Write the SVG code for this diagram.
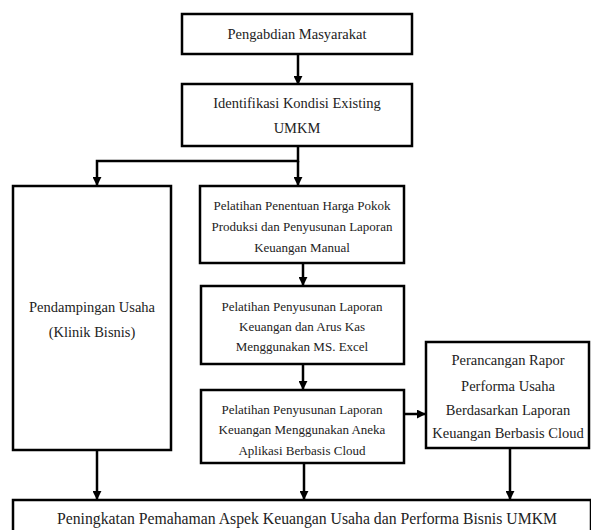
<svg xmlns="http://www.w3.org/2000/svg" width="591" height="530" viewBox="0 0 591 530">
<style>
.box{fill:#fff;stroke:#000;stroke-width:2.5}
.t{font-family:"Liberation Serif","Times New Roman",serif;fill:#222;text-anchor:middle}
.s13{font-size:13px}
.s15{font-size:14.5px}
.s14{font-size:14.5px}
.line{fill:none;stroke:#000;stroke-width:2.5}
</style>
<defs>
<marker id="ah" viewBox="0 0 10 10" refX="9" refY="5" markerWidth="3.6" markerHeight="3.6" orient="auto" markerUnits="strokeWidth">
<path d="M0,0 L10,5 L0,10 z" fill="#000"/>
</marker>
</defs>
<g id="connectors">
<line class="line" x1="298" y1="54" x2="298" y2="84" marker-end="url(#ah)"/>
<polyline class="line" points="298,146 298,161 97,161 97,185" marker-end="url(#ah)"/>
<line class="line" x1="298" y1="161" x2="298" y2="185" marker-end="url(#ah)"/>
<line class="line" x1="303" y1="263" x2="303" y2="285" marker-end="url(#ah)"/>
<line class="line" x1="303" y1="364" x2="303" y2="389" marker-end="url(#ah)"/>
<line class="line" x1="404" y1="414" x2="425" y2="414" marker-end="url(#ah)"/>
<line class="line" x1="97" y1="450" x2="97" y2="499" marker-end="url(#ah)"/>
<line class="line" x1="304" y1="463" x2="304" y2="499" marker-end="url(#ah)"/>
<line class="line" x1="510" y1="448" x2="510" y2="499" marker-end="url(#ah)"/>
</g>
<g id="n1">
<rect class="box" x="182" y="14" width="230" height="40"/>
<text class="t s14" x="297" y="39">Pengabdian Masyarakat</text>
</g>
<g id="n2">
<rect class="box" x="182" y="84" width="230" height="62"/>
<text class="t s15" x="297" y="108">Identifikasi Kondisi Existing</text>
<text class="t s15" x="297" y="133">UMKM</text>
</g>
<g id="n3">
<rect class="box" x="13" y="186" width="158" height="264"/>
<text class="t s15" x="92" y="312">Pendampingan Usaha</text>
<text class="t s15" x="92" y="337">(Klinik Bisnis)</text>
</g>
<g id="n4">
<rect class="box" x="200" y="186" width="204" height="77"/>
<text class="t s13" x="302" y="210">Pelatihan Penentuan Harga Pokok</text>
<text class="t s13" x="302" y="231">Produksi dan Penyusunan Laporan</text>
<text class="t s13" x="302" y="252">Keuangan Manual</text>
</g>
<g id="n5">
<rect class="box" x="201" y="286" width="203" height="78"/>
<text class="t s13" x="302" y="311">Pelatihan Penyusunan Laporan</text>
<text class="t s13" x="302" y="331">Keuangan dan Arus Kas</text>
<text class="t s13" x="302" y="351">Menggunakan MS. Excel</text>
</g>
<g id="n6">
<rect class="box" x="201" y="390" width="203" height="73"/>
<text class="t s13" x="302" y="414">Pelatihan Penyusunan Laporan</text>
<text class="t s13" x="302" y="434">Keuangan Menggunakan Aneka</text>
<text class="t s13" x="302" y="455">Aplikasi Berbasis Cloud</text>
</g>
<g id="n7">
<rect class="box" x="426" y="342" width="163" height="106"/>
<text class="t s15" x="508" y="365">Perancangan Rapor</text>
<text class="t s15" x="508" y="391">Performa Usaha</text>
<text class="t s15" x="508" y="415">Berdasarkan Laporan</text>
<text class="t s15" x="508" y="438">Keuangan Berbasis Cloud</text>
</g>
<g id="n8">
<rect class="box" x="13" y="500" width="578" height="40"/>
<text class="t" style="font-size:16px" x="307" y="524" textLength="500" lengthAdjust="spacingAndGlyphs">Peningkatan Pemahaman Aspek Keuangan Usaha dan Performa Bisnis UMKM</text>
</g>
</svg>
